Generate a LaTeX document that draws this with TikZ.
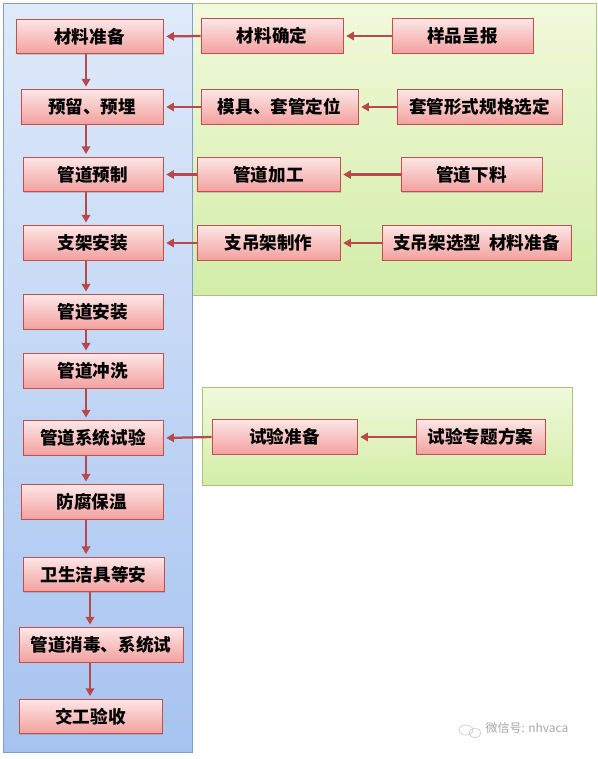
\documentclass[tikz,border=0pt]{standalone}
\usepackage{fontspec}
\setmainfont{Noto Sans CJK SC}
\usetikzlibrary{shadows,arrows.meta}

\definecolor{boxline}{HTML}{C0504D}
\definecolor{pinktop}{HTML}{FDE6E6}
\definecolor{pinkbot}{HTML}{F2A09E}
\definecolor{flowred}{HTML}{B9484A}
\definecolor{bluetop}{HTML}{DFEAFA}
\definecolor{bluebot}{HTML}{A6C3F0}
\definecolor{blueline}{HTML}{7F9FD0}
\definecolor{greentop}{HTML}{F1F9DB}
\definecolor{greenbot}{HTML}{D3EDA8}
\definecolor{greenline}{HTML}{A9C47A}

\begin{document}
\begin{tikzpicture}[
    x=0.025cm, y=-0.025cm,
    stepbox/.style={rectangle, draw=boxline, line width=0.6pt, top color=pinktop, bottom color=pinkbot,
        minimum height=0.86cm, inner sep=0pt, font=\fontsize{12.5}{14}\selectfont\bfseries,
        drop shadow={shadow xshift=0.7pt, shadow yshift=-0.9pt, opacity=0.35}},
    panel/.style={line width=0.6pt, drop shadow={shadow xshift=0.8pt, shadow yshift=-1pt, opacity=0.3}},
    flow/.style={-{Triangle[length=5.5pt,width=6pt]}, line width=1.6pt, draw=flowred, shorten >=2pt}
]
\useasboundingbox (0,0) rectangle (598,759);

% Panels
\draw[panel, draw=greenline, top color=greentop, bottom color=greenbot] (192,3) rectangle (596,295);
\draw[panel, draw=greenline, top color=greentop, bottom color=greenbot] (202,387) rectangle (572,485);
\draw[panel, draw=blueline, top color=bluetop, bottom color=bluebot] (3,3) rectangle (192,752);

% Main steps
\node[stepbox, minimum width=3.675cm] (zbcl) at (89.5,36.5) {材料准备};
\node[stepbox, minimum width=3.55cm] (yly) at (92,107) {预留、预埋};
\node[stepbox, minimum width=3.5cm] (gdyz) at (93,174.5) {管道预制};
\node[stepbox, minimum width=3.5cm] (zjaz) at (93,243) {支架安装};
\node[stepbox, minimum width=3.5cm] (gdaz) at (93,312) {管道安装};
\node[stepbox, minimum width=3.5cm] (gdcx) at (93,371) {管道冲洗};
\node[stepbox, minimum width=3.5cm] (xtsy) at (93,438) {管道系统试验};
\node[stepbox, minimum width=3.55cm] (ffbw) at (92,502) {防腐保温};
\node[stepbox, minimum width=3.525cm] (wsjj) at (93.5,574.5) {卫生洁具等安};
\node[stepbox, minimum width=4.1cm] (xdsy) at (101,645) {管道消毒、系统试};
\node[stepbox, minimum width=3.575cm] (jgys) at (90.5,716.5) {交工验收};

% Preparation steps
\node[stepbox, minimum width=3.55cm] (clqd) at (272,36) {材料确定};
\node[stepbox, minimum width=3.925cm] (tgdw) at (279.5,107) {模具、套管定位};
\node[stepbox, minimum width=3.575cm] (gdjg) at (268.5,174.5) {管道加工};
\node[stepbox, minimum width=3.575cm] (zjzz) at (268.5,243) {支吊架制作};
\node[stepbox, minimum width=3.525cm] (ypcb) at (462.5,36) {样品呈报};
\node[stepbox, minimum width=4.125cm] (tgxd) at (479.5,107) {套管形式规格选定};
\node[stepbox, minimum width=3.525cm] (gdxl) at (471.5,174.5) {管道下料};
\node[stepbox, minimum width=4.725cm] (zjxx) at (476.5,243) {支吊架选型\ \ 材料准备};
\node[stepbox, minimum width=3.625cm] (syzb) at (284.5,437) {试验准备};
\node[stepbox, minimum width=3.225cm] (syfa) at (480.5,437) {试验专题方案};

% Connexions
\coordinate (colA) at (86,0);
\coordinate (colB) at (90,0);
\foreach \a/\b in {zbcl/yly, yly/gdyz, gdyz/zjaz, zjaz/gdaz, gdaz/gdcx, gdcx/xtsy, xtsy/ffbw, ffbw/wsjj}
    \draw[flow] (\a.south -| colA) -- (\b.north -| colA);
\foreach \a/\b in {wsjj/xdsy, xdsy/jgys}
    \draw[flow] (\a.south -| colB) -- (\b.north -| colB);
\foreach \a/\b in {clqd/zbcl, tgdw/yly, gdjg/gdyz, zjzz/zjaz, ypcb/clqd, tgxd/tgdw, gdxl/gdjg, zjxx/zjzz, syzb/xtsy, syfa/syzb}
    \draw[flow] (\a.west) -- (\b.east);

% Watermark
\node[text=gray!70, font=\fontsize{8.5}{10}\selectfont] (wm) at (527,728) {微信号: nhvaca};
\draw[gray!40, line width=0.5pt] (466,730) ellipse (7 and 5) (475,733) ellipse (6 and 4.5);
\end{tikzpicture}
\end{document}
